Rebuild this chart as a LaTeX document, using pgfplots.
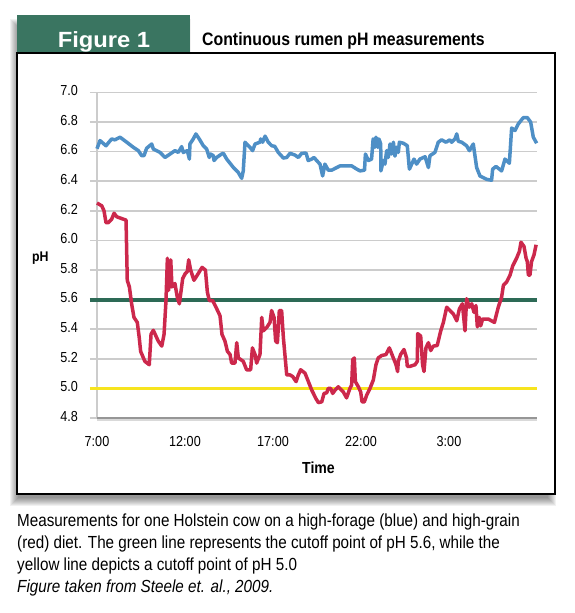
\documentclass[border=0pt]{standalone}
\usepackage{pgfplots}
\pgfplotsset{compat=1.18}
\usetikzlibrary{calc}
\usepackage{fontspec}
\setmainfont{Liberation Sans}
\newfontfamily\narrowfont[FakeStretch=0.87]{Liberation Sans}
\newfontfamily\condfont[FakeStretch=0.88]{Liberation Sans}
\newfontfamily\capfont[FakeStretch=0.87]{Liberation Sans}
\newfontfamily\widefont[FakeStretch=1.08]{Liberation Sans}

\definecolor{headgreen}{RGB}{58,117,97}
\definecolor{cutgreen}{RGB}{45,106,86}
\definecolor{cutyellow}{RGB}{247,228,30}
\definecolor{forageblue}{RGB}{78,143,198}
\definecolor{grainred}{RGB}{204,40,76}
\definecolor{gridgray}{RGB}{204,204,204}
\definecolor{axisgray}{RGB}{150,150,150}

\pgfdeclarelayer{background}
\pgfsetlayers{background,main}

\begin{document}
\begin{tikzpicture}
\begin{axis}[
  name=ax,
  scale only axis, width=440pt, height=325.5pt,
  xmin=0, xmax=25, ymin=4.8, ymax=7.0,
  clip=false,
  axis line style={draw=none},
  tick style={draw=none},
  xtick={0,5,10,15,20},
  xticklabels={7:00,12:00,17:00,22:00,3:00},
  ytick={4.8,5.0,5.2,5.4,5.6,5.8,6.0,6.2,6.4,6.6,6.8,7.0},
  xticklabel style={anchor=base, inner sep=0pt, yshift=-28pt,
    font=\narrowfont\fontsize{14.5}{15}\selectfont},
  yticklabel style={anchor=base east, inner sep=0pt, xshift=-19pt, yshift=-3.3pt,
    font=\narrowfont\fontsize{14.5}{15}\selectfont,
    /pgf/number format/.cd, fixed, fixed zerofill, precision=1, assume math mode=true},
]
% horizontal grid, each line running a little past the left edge
\draw[gridgray, line width=1.6pt] (axis cs:-0.4,4.8) -- (axis cs:0,4.8);
\draw[gridgray, line width=1.6pt] (axis cs:-0.4,5.2) -- (axis cs:25,5.2);
\draw[gridgray, line width=1.6pt] (axis cs:-0.4,5.4) -- (axis cs:25,5.4);
\draw[gridgray, line width=1.6pt] (axis cs:-0.4,5.8) -- (axis cs:25,5.8);
\draw[gridgray, line width=1.6pt] (axis cs:-0.4,6.0) -- (axis cs:25,6.0);
\draw[gridgray, line width=1.6pt] (axis cs:-0.4,6.2) -- (axis cs:25,6.2);
\draw[gridgray, line width=1.6pt] (axis cs:-0.4,6.4) -- (axis cs:25,6.4);
\draw[gridgray, line width=1.6pt] (axis cs:-0.4,6.6) -- (axis cs:25,6.6);
\draw[gridgray, line width=1.6pt] (axis cs:-0.4,6.8) -- (axis cs:25,6.8);
\draw[gridgray, line width=1.6pt] (axis cs:-0.4,7.0) -- (axis cs:25,7.0);
% vertical axis
\draw[gridgray, line width=1.6pt] (axis cs:0,4.8) -- (axis cs:0,7.0);
% horizontal axis with its shadow
\draw[gray!30, line width=2.5pt] ([yshift=-2pt]axis cs:0,4.8) -- ([yshift=-2pt]axis cs:25,4.8);
\draw[axisgray, line width=2.2pt] (axis cs:0,4.8) -- (axis cs:25,4.8);

% cutoff levels
\addplot[cutgreen, line width=3.8pt] coordinates {(-0.4,5.6) (25,5.6)};
\addplot[cutyellow, line width=3.8pt] coordinates {(-0.4,5.0) (25,5.0)};

% high-forage diet
\addplot[forageblue, line width=3.5pt, line join=round] coordinates {
(0,6.62)(0.17,6.675)(0.51,6.64)(0.83,6.686)(1.02,6.68)(1.31,6.698)(1.69,6.664)(2.06,6.63)
(2.35,6.607)(2.54,6.573)(2.67,6.573)(2.82,6.623)(3.11,6.652)(3.2,6.618)(3.58,6.595)(3.86,6.561)
(4.15,6.584)(4.43,6.607)(4.62,6.595)(4.81,6.634)(4.9,6.595)(5.13,6.607)(5.25,6.55)(5.28,6.652)
(5.47,6.686)(5.62,6.72)(5.81,6.686)(6.04,6.64)(6.23,6.618)(6.38,6.561)(6.46,6.584)(6.61,6.573)
(6.65,6.54)(6.8,6.561)(7.08,6.584)(7.18,6.589)(7.37,6.55)(7.75,6.493)(8.03,6.459)(8.22,6.42)
(8.31,6.47)(8.41,6.664)(8.5,6.652)(8.69,6.63)(8.84,6.607)(8.98,6.652)(9.26,6.664)(9.3,6.686)
(9.41,6.664)(9.55,6.705)(9.73,6.664)(9.93,6.64)(10.1,6.636)(10.3,6.595)(10.59,6.557)(10.78,6.561)
(10.97,6.589)(11.25,6.577)(11.44,6.561)(11.63,6.589)(11.88,6.59)(12.0,6.54)(12.2,6.55)(12.33,6.561)
(12.48,6.54)(12.67,6.516)(12.82,6.436)(12.95,6.516)(13.14,6.475)(13.33,6.475)(13.81,6.504)(14.47,6.504)
(14.76,6.482)(14.95,6.47)(15.2,6.475)(15.25,6.584)(15.42,6.54)(15.6,6.55)(15.69,6.686)(15.79,6.63)
(15.85,6.698)(15.95,6.63)(16.02,6.686)(16.12,6.652)(16.13,6.47)(16.27,6.54)(16.36,6.516)(16.46,6.607)
(16.55,6.561)(16.65,6.652)(16.74,6.584)(16.84,6.664)(16.93,6.57)(17.03,6.63)(17.12,6.595)(17.18,6.664)
(17.41,6.657)(17.63,6.64)(17.75,6.482)(17.88,6.516)(18.01,6.55)(18.16,6.516)(18.35,6.55)(18.64,6.566)
(18.83,6.493)(18.92,6.573)(19.2,6.595)(19.39,6.664)(19.58,6.68)(19.83,6.664)(20.05,6.68)(20.15,6.664)
(20.34,6.686)(20.44,6.72)(20.53,6.67)(20.72,6.664)(21.0,6.64)(21.16,6.607)(21.38,6.652)(21.57,6.493)
(21.76,6.436)(22.14,6.413)(22.42,6.407)(22.48,6.482)(22.67,6.5)(22.99,6.47)(23.18,6.55)(23.43,6.522)
(23.56,6.76)(23.75,6.743)(23.94,6.788)(24.22,6.83)(24.45,6.83)(24.64,6.8)(24.79,6.698)(24.98,6.657)
};

% high-grain diet
\addplot[grainred, line width=3.5pt, line join=round] coordinates {
(0,6.253)(0.27,6.234)(0.4,6.2)(0.51,6.12)(0.64,6.12)(0.83,6.143)(0.97,6.184)(1.12,6.16)
(1.4,6.148)(1.65,6.138)(1.72,5.73)(1.84,5.686)(1.97,5.57)(2.1,5.48)(2.29,5.446)(2.4,5.343)
(2.48,5.25)(2.72,5.183)(2.97,5.16)(3.07,5.366)(3.2,5.393)(3.48,5.32)(3.68,5.286)(3.81,5.366)
(3.92,5.594)(4.0,5.88)(4.07,5.663)(4.19,5.869)(4.26,5.686)(4.43,5.709)(4.56,5.617)(4.68,5.572)
(4.87,5.743)(5.02,5.777)(5.13,5.789)(5.21,5.869)(5.32,5.8)(5.51,5.731)(5.7,5.766)(5.97,5.818)
(6.16,5.8)(6.27,5.652)(6.38,5.594)(6.57,5.594)(6.76,5.549)(6.99,5.491)(7.1,5.366)(7.27,5.32)
(7.41,5.251)(7.56,5.229)(7.65,5.171)(7.84,5.171)(7.94,5.309)(8.03,5.206)(8.31,5.183)(8.5,5.126)
(8.73,5.126)(8.83,5.274)(8.98,5.229)(9.07,5.171)(9.26,5.229)(9.36,5.48)(9.45,5.389)(9.64,5.411)
(9.83,5.446)(9.92,5.526)(10.06,5.48)(10.15,5.32)(10.25,5.309)(10.36,5.526)(10.49,5.526)(10.59,5.343)
(10.78,5.091)(10.97,5.091)(11.12,5.08)(11.31,5.046)(11.44,5.091)(11.57,5.126)(11.82,5.103)(12.01,5.046)
(12.2,4.989)(12.44,4.931)(12.58,4.904)(12.77,4.909)(12.9,4.966)(13.05,4.97)(13.14,5.0)(13.28,5.0)
(13.39,4.966)(13.53,4.989)(13.71,5.011)(13.99,4.977)(14.18,4.936)(14.37,5.0)(14.47,5.023)(14.53,5.194)
(14.62,5.206)(14.68,5.046)(14.85,5.011)(14.98,4.977)(15.06,4.909)(15.19,4.909)(15.32,4.954)(15.51,5.0)
(15.7,5.057)(15.85,5.16)(15.98,5.206)(16.17,5.222)(16.42,5.229)(16.61,5.274)(16.8,5.217)(16.99,5.16)
(17.08,5.114)(17.12,5.183)(17.25,5.229)(17.44,5.263)(17.59,5.206)(17.63,5.149)(17.78,5.149)(18.07,5.16)
(18.2,5.183)(18.22,5.37)(18.39,5.354)(18.5,5.16)(18.58,5.114)(18.69,5.274)(18.83,5.309)(18.96,5.256)
(19.11,5.286)(19.33,5.29)(19.53,5.389)(19.68,5.446)(19.87,5.549)(20.06,5.526)(20.25,5.503)(20.44,5.457)
(20.59,5.537)(20.76,5.572)(20.91,5.389)(21.0,5.606)(21.15,5.549)(21.29,5.572)(21.42,5.514)(21.53,5.56)
(21.61,5.416)(21.72,5.48)(21.8,5.423)(21.91,5.469)(22.23,5.469)(22.58,5.446)(22.8,5.549)(22.99,5.617)
(23.09,5.697)(23.28,5.72)(23.47,5.766)(23.62,5.828)(23.84,5.88)(24.0,5.926)(24.09,5.988)(24.26,5.96)
(24.38,5.88)(24.45,5.857)(24.51,5.766)(24.6,5.766)(24.69,5.857)(24.83,5.903)(24.95,5.971)
};
\end{axis}

% page layout in points, with the plot box's lower left corner at (97,195)
\begin{scope}[shift={($(ax.south west)-(97pt,195pt)$)}, x=1pt, y=1pt]
\begin{pgfonlayer}{background}
  \fill[white] (0,0) rectangle (575,613);
  % soft drop shadow behind the panel and the header tab
  \foreach \i in {-4,...,4} {
    \fill[black, opacity=0.055] (14+\i,111+\i) rectangle (552-\i,552-\i);
    \fill[black, opacity=0.055] (14+\i,552-\i) rectangle (187-\i,590-\i);
  }
  % header tab
  \fill[headgreen] (17,560) rectangle (190,598);
  % panel
  \draw[line width=1.5pt, fill=white] (17,119) rectangle (555,560);
\end{pgfonlayer}

\node[anchor=base, white, inner sep=0pt, font=\widefont\fontsize{22}{22}\selectfont\bfseries] at (104,565) {Figure 1};
\node[anchor=base west, inner sep=0pt, font=\condfont\fontsize{18}{18}\selectfont\bfseries] at (202,567) {Continuous rumen pH measurements};

% axis titles
\node[anchor=base west, inner sep=0pt, font=\condfont\fontsize{14}{14}\selectfont\bfseries] at (32,351) {pH};
\node[anchor=base, inner sep=0pt, font=\condfont\fontsize{16}{16}\selectfont\bfseries] at (318.5,139) {Time};

% caption
\begin{scope}[every node/.style={anchor=base west, inner sep=0pt, font=\capfont\fontsize{17.5}{17.5}\selectfont}]
\node at (17,87) {Measurements for one Holstein cow on a high-forage (blue) and high-grain};
\node at (17,65) {(red) diet. The green line represents the cutoff point of pH 5.6, while the};
\node at (17,43) {yellow line depicts a cutoff point of pH 5.0};
\node at (17,21) {\itshape Figure taken from Steele et. al., 2009.};
\end{scope}
\end{scope}
\end{tikzpicture}
\end{document}
